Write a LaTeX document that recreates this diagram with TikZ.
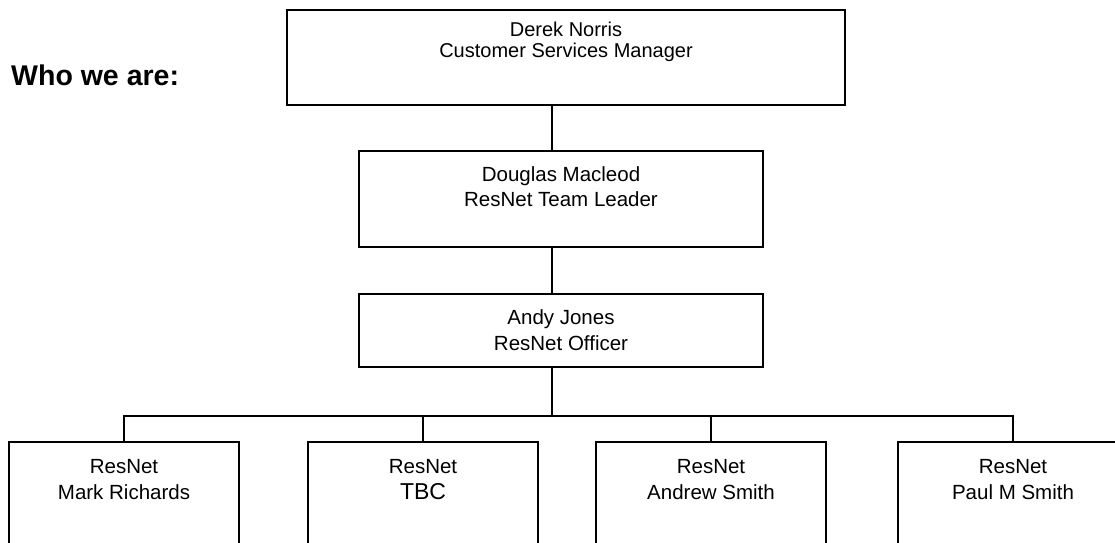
\documentclass[tikz,border=0pt]{standalone}
\usepackage{fontspec}
\setmainfont{Liberation Sans}
\usepackage{tikz}
\usetikzlibrary{positioning}

\begin{document}
\begin{tikzpicture}[x=1pt, y=-1pt,
  orgbox/.style={draw, line width=1.5pt, inner sep=0pt},
  names/.style={align=center, inner sep=0pt,
                font=\fontsize{20.5}{25.5}\selectfont},
  link/.style={line width=1.3pt}
]
\clip (0,0) rectangle (1115,542);

% ── Heading ──
\node[anchor=base west, inner sep=0pt,
      font=\fontsize{28.5}{30}\selectfont\bfseries] (who) at (11,85)
     {Who we are:};

% ── Management chain ──
\node[orgbox, minimum width=558pt, minimum height=95pt] (mgr)  at (566,57.5) {};
\node[orgbox, minimum width=404pt, minimum height=96pt] (lead) at (561,199) {};
\node[orgbox, minimum width=404pt, minimum height=73pt] (ofc)  at (561,330.5) {};

\node[names, font=\fontsize{20}{21}\selectfont, below=12.5pt of mgr.north] (mgrname)
     {Derek Norris\\Customer Services Manager};
\node[names, below=16pt of lead.north] (leadname)
     {Douglas Macleod\\ResNet Team Leader};
\node[names, below=16.5pt of ofc.north] (ofcname)
     {Andy Jones\\ResNet Officer};

% ── ResNet team row ──
\node[orgbox, minimum width=230pt, minimum height=120pt] (rn1) at (124,502) {};
\node[orgbox, minimum width=230pt, minimum height=120pt] (rn2) at (423,502) {};
\node[orgbox, minimum width=230pt, minimum height=120pt] (rn3) at (711,502) {};
\node[orgbox, minimum width=230pt, minimum height=120pt] (rn4) at (1013,502) {};

\node[names, below=18pt of rn1.north] (rn1name) {ResNet\\Mark Richards};
\node[names, below=18pt of rn2.north] (rn2name)
     {ResNet\\\fontsize{23}{26}\selectfont TBC};
\node[names, below=18pt of rn3.north] (rn3name) {ResNet\\Andrew Smith};
\node[names, below=18pt of rn4.north] (rn4name) {ResNet\\Paul M Smith};

% ── Connectors ──
\coordinate (spine) at (552,0);
\coordinate (bus)   at (0,416);
\draw[link] (mgr.south -| spine) -- (lead.north -| spine);
\draw[link] (lead.south -| spine) -- (ofc.north -| spine);
\draw[link] (ofc.south -| spine) -- (bus -| spine);
\draw[link] (rn1.north) |- (rn4.north |- bus) -- (rn4.north);
\foreach \n in {rn2,rn3}
  \draw[link] (\n.north) -- (\n.north |- bus);

\end{tikzpicture}
\end{document}
